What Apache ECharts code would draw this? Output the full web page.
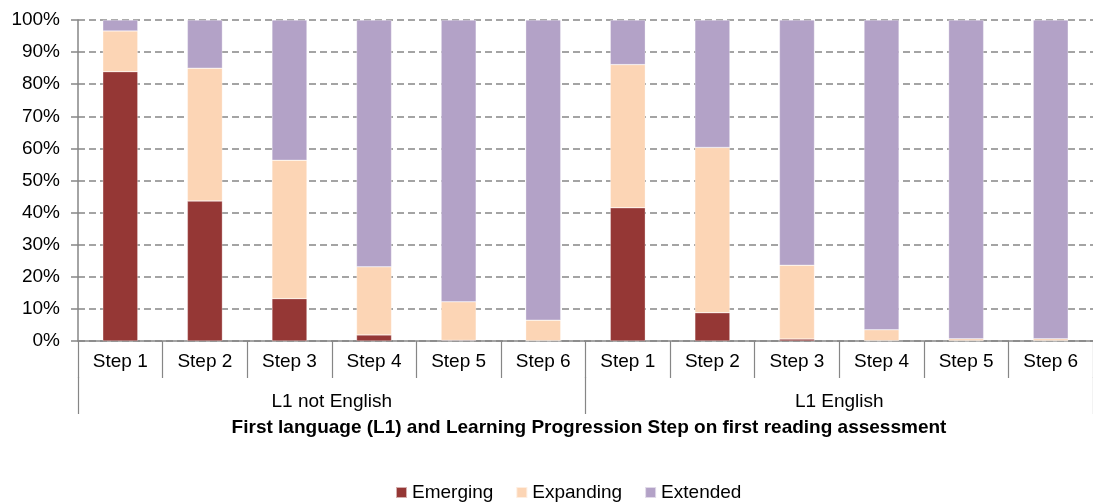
<!DOCTYPE html>
<html>
<head>
<meta charset="utf-8">
<script src="https://cdn.jsdelivr.net/npm/echarts@6/dist/echarts.min.js"></script>
<style>
html,body{margin:0;padding:0;background:#fff;}
#chart{width:1093px;height:502px;}
</style>
</head>
<body>
<div id="chart"></div>
<script>
const steps = ['Step 1','Step 2','Step 3','Step 4','Step 5','Step 6','Step 1','Step 2','Step 3','Step 4','Step 5','Step 6'];
const groups = ['L1 not English','L1 English'];
const yTicks = [0,10,20,30,40,50,60,70,80,90,100];
const emerging  = [83.9, 43.6, 13.2, 1.9, 0.2, 0.1, 41.5, 8.8, 0.6, 0.1, 0.1, 0.1];
const expanding = [12.7, 41.4, 43.1, 21.2, 12.0, 6.4, 44.6, 51.5, 23.0, 3.4, 0.6, 0.6];
const extended  = [3.4, 15.0, 43.7, 76.9, 87.8, 93.5, 13.9, 39.7, 76.4, 96.5, 99.3, 99.3];
const xTitle = 'First language (L1) and Learning Progression Step on first reading assessment';

const font = 'Liberation Sans, Arial, sans-serif';
const gray = '#868686';
const chart = echarts.init(document.getElementById('chart'));
const barStyle = (c) => ({color: c, borderColor: 'rgba(255,255,255,0.6)', borderWidth: 0.5});
chart.setOption({
  animation: false,
  textStyle: {fontFamily: font},
  grid: {left: 78, right: -4, top: 20, bottom: 161, containLabel: false},
  legend: {
    top: 478, left: 390,
    itemWidth: 11, itemHeight: 11, itemGap: 22,
    icon: 'rect',
    textStyle: {fontSize: 19, color: '#000', fontFamily: font},
    data: ['Emerging','Expanding','Extended']
  },
  graphic: [{
    type: 'text', x: 589, y: 428,
    style: {text: xTitle, fill: '#000', font: 'bold 19px ' + font, textAlign: 'center', textVerticalAlign: 'middle'}
  }],
  xAxis: [{
    type: 'category', data: steps, position: 'bottom',
    axisLine: {lineStyle: {color: gray, width: 1.5}},
    axisTick: {show: true, length: 37, lineStyle: {color: gray, width: 1.2}},
    axisLabel: {fontSize: 19, color: '#000', margin: 11, interval: 0}
  }, {
    type: 'category', data: groups, position: 'bottom', offset: 36,
    axisLine: {show: false},
    axisTick: {show: true, length: 37, lineStyle: {color: gray, width: 1.2}},
    axisLabel: {fontSize: 19, color: '#000', margin: 15, interval: 0}
  }],
  yAxis: {
    type: 'value', min: yTicks[0], max: yTicks[yTicks.length-1], interval: 10,
    axisLine: {show: true, lineStyle: {color: gray, width: 1.5}},
    axisTick: {show: true, length: 7, lineStyle: {color: gray, width: 1.5}},
    axisLabel: {fontSize: 19, color: '#000', formatter: '{value}%', margin: 18},
    splitLine: {lineStyle: {color: gray, width: 1.5, type: [7,4]}}
  },
  series: [
    {name: 'Emerging', type: 'bar', stack: 'a', data: emerging, barWidth: 35, itemStyle: barStyle('#953735')},
    {name: 'Expanding', type: 'bar', stack: 'a', data: expanding, barWidth: 35, itemStyle: barStyle('#FCD5B5')},
    {name: 'Extended', type: 'bar', stack: 'a', data: extended, barWidth: 35, itemStyle: barStyle('#B3A2C7')}
  ]
});
</script>
</body>
</html>
